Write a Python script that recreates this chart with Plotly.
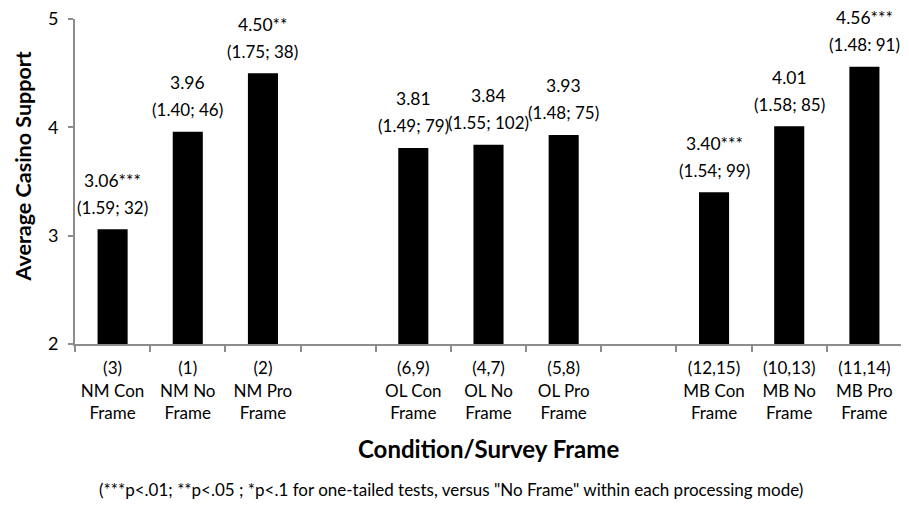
import plotly.graph_objects as go

categories = ["(3)<br>NM Con<br>Frame", "(1)<br>NM No<br>Frame", "(2)<br>NM Pro<br>Frame", " ",
              "(6,9)<br>OL Con<br>Frame", "(4,7)<br>OL No<br>Frame", "(5,8)<br>OL Pro<br>Frame", "  ",
              "(12,15)<br>MB Con<br>Frame", "(10,13)<br>MB No<br>Frame", "(11,14)<br>MB Pro<br>Frame"]
values = [3.06, 3.96, 4.50, None, 3.81, 3.84, 3.93, None, 3.40, 4.01, 4.56]
sig = ["***", "", "**", "", "", "", "", "", "***", "", "***"]
sd_n = ["(1.59; 32)", "(1.40; 46)", "(1.75; 38)", "", "(1.49; 79)", "(1.55; 102)", "(1.48; 75)", "",
        "(1.54; 99)", "(1.58; 85)", "(1.48: 91)"]
y_ticks = [2, 3, 4, 5]
x_title = "Condition/Survey Frame"
y_title = "Average Casino Support"
footnote = "(***p<.01; **p<.05 ; *p<.1 for one-tailed tests, versus \"No Frame\" within each processing mode)"

FONT = "Lato"
AXC = "#8c8c8c"
fig = go.Figure()
fig.add_trace(go.Bar(x=categories, y=values,
                     marker=dict(color="black", line=dict(width=0)), width=0.4))

for c, v, s, t in zip(categories, values, sig, sd_n):
    if v is None:
        continue
    fig.add_annotation(x=c, y=v, text=f"{v:.2f}{s}", showarrow=False,
                       yanchor="middle", yshift=49, font=dict(family=FONT, size=17.5, color="black"))
    fig.add_annotation(x=c, y=v, text=t, showarrow=False,
                       yanchor="middle", yshift=22, font=dict(family=FONT, size=17, color="black"))

fig.add_annotation(xref="paper", yref="paper", x=0.4547, y=-0.449, yanchor="middle", xanchor="center",
                   text=footnote, showarrow=False, font=dict(family=FONT, size=17, color="black"))
fig.add_annotation(xref="paper", yref="paper", x=0.5006, y=-0.32, yanchor="middle", xanchor="center",
                   text=f"<b>{x_title}</b>", showarrow=False, font=dict(family=FONT, size=24, color="black"))
fig.add_annotation(xref="paper", yref="paper", x=-0.064, y=0.546, yanchor="middle", xanchor="center",
                   text=f"<b>{y_title}</b>", textangle=-90, showarrow=False,
                   font=dict(family=FONT, size=21.5, color="black"))

# page body has an 8px default margin, so the figure is sized/offset to compensate
fig.update_layout(
    width=901, height=500,
    margin=dict(l=67, r=7, t=11, b=164),
    plot_bgcolor="white", paper_bgcolor="white",
    showlegend=False,
    font=dict(family=FONT, color="black"),
)
fig.update_xaxes(type="category", categoryorder="array", categoryarray=categories, automargin=False,
                 showline=True, linecolor=AXC, linewidth=2, tickangle=0,
                 ticks="outside", tickson="boundaries", ticklen=6, tickwidth=1.5, tickcolor=AXC,
                 ticklabelstandoff=8, ticklabeloverflow="allow",
                 tickfont=dict(family=FONT, size=17, color="black"))
fig.update_yaxes(range=[2, 5], tickvals=y_ticks, showgrid=False, zeroline=False, automargin=False,
                 showline=True, linecolor=AXC, linewidth=2,
                 ticks="outside", ticklen=5, tickwidth=1.5, tickcolor=AXC,
                 ticklabelstandoff=6, ticklabeloverflow="allow",
                 tickfont=dict(family=FONT, size=18, color="black"))

fig.write_html("out.html")
